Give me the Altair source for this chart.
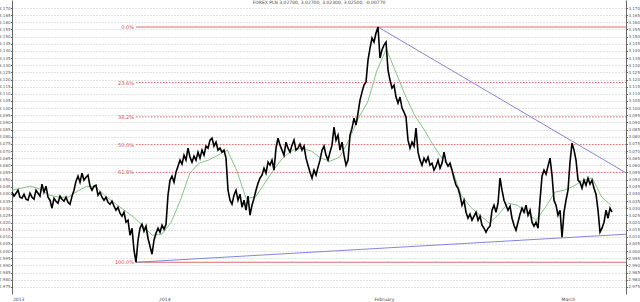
import altair as alt
import pandas as pd

# USD/PLN intraday closes (regular bar grid)
price = [
    3.0412, 3.0384, 3.0405, 3.0426, 3.0377, 3.0370, 3.0398, 3.0363, 3.0356, 3.0405,
    3.0377, 3.0363, 3.0426, 3.0405, 3.0384, 3.0468, 3.0412, 3.0454, 3.0377, 3.0356,
    3.0300, 3.0370, 3.0349, 3.0335, 3.0384, 3.0363, 3.0349, 3.0377, 3.0342, 3.0328,
    3.0384, 3.0426, 3.0489, 3.0524, 3.0482, 3.0545, 3.0496, 3.0517, 3.0531, 3.0454,
    3.0426, 3.0454, 3.0461, 3.0391, 3.0412, 3.0377, 3.0356, 3.0377, 3.0342, 3.0328,
    3.0349, 3.0314, 3.0286, 3.0307, 3.0265, 3.0244, 3.0272, 3.0202, 3.0216, 3.0111,
    3.0160, 3.0006, 2.9922, 3.0076, 3.0160, 3.0188, 3.0139, 3.0174, 3.0090, 3.0034,
    2.9978, 3.0076, 3.0125, 3.0160, 3.0132, 3.0181, 3.0153, 3.0188, 3.0391, 3.0496,
    3.0524, 3.0482, 3.0552, 3.0594, 3.0636, 3.0608, 3.0671, 3.0636, 3.0720, 3.0657,
    3.0622, 3.0664, 3.0636, 3.0692, 3.0650, 3.0706, 3.0671, 3.0734, 3.0720, 3.0776,
    3.0790, 3.0734, 3.0762, 3.0706, 3.0720, 3.0692, 3.0706, 3.0650, 3.0426, 3.0356,
    3.0328, 3.0391, 3.0426, 3.0356, 3.0398, 3.0307, 3.0356, 3.0286, 3.0384, 3.0251,
    3.0321, 3.0370, 3.0426, 3.0475, 3.0510, 3.0531, 3.0580, 3.0545, 3.0622, 3.0601,
    3.0636, 3.0566, 3.0720, 3.0790, 3.0741, 3.0706, 3.0671, 3.0762, 3.0720, 3.0692,
    3.0741, 3.0776, 3.0706, 3.0720, 3.0748, 3.0706, 3.0734, 3.0650, 3.0601, 3.0552,
    3.0510, 3.0566, 3.0531, 3.0587, 3.0636, 3.0706, 3.0734, 3.0671, 3.0636, 3.0692,
    3.0741, 3.0867, 3.0776, 3.0811, 3.0706, 3.0762, 3.0671, 3.0601, 3.0636, 3.0811,
    3.0860, 3.0930, 3.0881, 3.0965, 3.1056, 3.1112, 3.1161, 3.1182, 3.1336, 3.1420,
    3.1490, 3.1462, 3.1525, 3.1567, 3.1350, 3.1406, 3.1441, 3.1462, 3.1266, 3.1196,
    3.1140, 3.1161, 3.1077, 3.1035, 3.1077, 3.1000, 3.0972, 3.0937, 3.0776, 3.0720,
    3.0762, 3.0734, 3.0860, 3.0692, 3.0636, 3.0601, 3.0650, 3.0622, 3.0657, 3.0601,
    3.0615, 3.0566, 3.0594, 3.0636, 3.0580, 3.0615, 3.0692, 3.0622, 3.0594, 3.0615,
    3.0566, 3.0510, 3.0461, 3.0440, 3.0391, 3.0321, 3.0356, 3.0272, 3.0230, 3.0258,
    3.0216, 3.0244, 3.0272, 3.0216, 3.0244, 3.0181, 3.0160, 3.0132, 3.0160, 3.0174,
    3.0286, 3.0321, 3.0272, 3.0335, 3.0510, 3.0426, 3.0356, 3.0321, 3.0286, 3.0314,
    3.0230, 3.0181, 3.0146, 3.0202, 3.0258, 3.0300, 3.0272, 3.0321, 3.0251, 3.0286,
    3.0202, 3.0174, 3.0202, 3.0160, 3.0356, 3.0524, 3.0566, 3.0538, 3.0594, 3.0650,
    3.0531, 3.0356, 3.0321, 3.0251, 3.0286, 3.0097, 3.0272, 3.0356, 3.0426, 3.0622,
    3.0755, 3.0706, 3.0636, 3.0496, 3.0482, 3.0440, 3.0496, 3.0461, 3.0510, 3.0468,
    3.0496, 3.0440, 3.0398, 3.0286, 3.0132, 3.0160, 3.0202, 3.0286, 3.0230, 3.0300,
    3.0272,
]

# green moving average, one value per trading day
ma = [
    3.0426, 3.0440, 3.0454, 3.0433, 3.0391, 3.0377, 3.0377, 3.0419, 3.0454, 3.0447,
    3.0384, 3.0335, 3.0286, 3.0237, 3.0174, 3.0111, 3.0118, 3.0202, 3.0356, 3.0545,
    3.0615, 3.0636, 3.0671, 3.0706, 3.0566, 3.0370, 3.0377, 3.0475, 3.0573, 3.0657,
    3.0706, 3.0720, 3.0699, 3.0650, 3.0629, 3.0657, 3.0776, 3.0930, 3.1042, 3.1266,
    3.1413, 3.1252, 3.1091, 3.0951, 3.0853, 3.0741, 3.0643, 3.0573, 3.0391, 3.0307,
    3.0251, 3.0195, 3.0258, 3.0335, 3.0321, 3.0265, 3.0216, 3.0307, 3.0412, 3.0426,
    3.0454, 3.0496, 3.0510, 3.0377, 3.0321,
]

# time axis in trading days since Mon 9 Dec 2013
X_START = 1.2821
X_END = 66.88
BAR = 0.21368
DAY = 1.0

fib_pct = [0.0, 23.6, 38.2, 50.0, 61.8, 100.0]
fib_labels = ["0.0%", "23.6%", "38.2%", "50.0%", "61.8%", "100.0%"]
fib_style = ["solid", "dotted", "dotted", "dotted", "dotted", "solid"]

trend_end = [3.0547, 3.0118]  # trend lines' values at the right edge

week_ticks = [5, 10, 15, 20, 25, 30, 35, 40, 45, 50, 55, 60, 65]
week_labels = ["16", "23", "30", "6", "13", "20", "27", "3", "10", "17", "24", "3", "10"]
period_labels = ["2013", "2014", "February", "March"]
period_pos = [1.39, 17.0, 40.0, 60.0]
y_ticks = [round(2.975 + 0.005 * i, 3) for i in range(40)]

title_text = "FOREX PLN 3.02700, 3.02700, 3.02300, 3.02500, -0.00770"

FONT = "DejaVu Sans"

df_price = pd.DataFrame({"t": [X_START + i * BAR for i in range(len(price))], "p": price})
df_ma = pd.DataFrame({"t": [X_START + i * DAY for i in range(len(ma))], "p": ma})

hi = max(price)
lo = min(price)
t_hi = float(df_price["t"][price.index(hi)])
t_lo = float(df_price["t"][price.index(lo)])

df_fib = pd.DataFrame({
    "t": [t_lo] * len(fib_pct),
    "t2": [X_END] * len(fib_pct),
    "p": [hi - pct / 100.0 * (hi - lo) for pct in fib_pct],
    "label": fib_labels,
    "style": fib_style,
})
df_trend = pd.DataFrame({
    "t": [t_hi, X_END, t_lo, X_END],
    "p": [hi, trend_end[0], lo, trend_end[1]],
    "id": ["down", "down", "up", "up"],
})
df_period = pd.DataFrame({"t": period_pos, "label": period_labels})
df_title = pd.DataFrame({"s": [title_text]})

xs = alt.Scale(domain=[X_START, X_END], nice=False, zero=False)
ys = alt.Scale(domain=[2.970, 3.1756], nice=False, zero=False)

label_expr = ""
for v, s in zip(week_ticks, week_labels):
    label_expr += "datum.value == %d ? '%s' : " % (v, s)
label_expr += "''"

x_axis = alt.Axis(values=week_ticks, labelExpr=label_expr, grid=True, gridColor="#dddddd",
                  gridWidth=0.8, tickSize=3, tickColor="#444", domainColor="#555",
                  labelFontSize=4, labelColor="#222", labelPadding=-3, labelAlign="left",
                  labelBaseline="top", labelOffset=1, labelFont=FONT, title=None,
                  labelOverlap=False, labelBound=False, labelFlush=False)
y_left = alt.Axis(values=y_ticks, format=".3f", orient="left", labelFontSize=4,
                  labelColor="#555", labelFont=FONT, tickSize=1.5, tickColor="#666",
                  domainColor="#666", grid=True, gridDash=[1, 2], gridColor="#b8b8b8",
                  gridWidth=0.8, labelPadding=0.5, title=None, labelOverlap=False)
y_right = alt.Axis(values=y_ticks, format=".3f", orient="right", labelFontSize=4,
                   labelColor="#555", labelFont=FONT, tickSize=1.5, tickColor="#666",
                   domainColor="#666", grid=False, labelPadding=0.5, title=None,
                   labelOverlap=False)

fib_lines = alt.Chart(df_fib).mark_rule(color="#e06a6a", strokeWidth=1).encode(
    x=alt.X("t:Q", scale=xs, axis=x_axis),
    x2="t2:Q",
    y=alt.Y("p:Q", scale=ys, axis=y_left),
    strokeDash=alt.StrokeDash("style:N", legend=None,
                              scale=alt.Scale(domain=["solid", "dotted"], range=[[1, 0], [1.5, 1.5]])),
)
fib_text = alt.Chart(df_fib).mark_text(align="right", baseline="middle", dx=-2, fontSize=5,
                                       color="#d94a4a", font=FONT).encode(
    x=alt.X("t:Q", scale=xs, axis=None),
    y=alt.Y("p:Q", scale=ys, axis=None),
    text="label:N",
)
trend = alt.Chart(df_trend).mark_line(color="#8484dc", strokeWidth=1).encode(
    x=alt.X("t:Q", scale=xs, axis=None),
    y=alt.Y("p:Q", scale=ys, axis=None),
    detail="id:N",
)
ma_line = alt.Chart(df_ma).mark_line(color="#74c074", strokeWidth=0.9).encode(
    x=alt.X("t:Q", scale=xs, axis=None),
    y=alt.Y("p:Q", scale=ys, axis=y_right),
)
price_line = alt.Chart(df_price).mark_line(color="black", strokeWidth=1.6).encode(
    x=alt.X("t:Q", scale=xs, axis=None),
    y=alt.Y("p:Q", scale=ys, axis=None),
)
periods = alt.Chart(df_period).mark_text(align="left", baseline="middle", fontSize=4.5,
                                         color="#444", font=FONT).encode(
    x=alt.X("t:Q", scale=xs, axis=None),
    y=alt.value(300),
    text="label:N",
)
title = alt.Chart(df_title).mark_text(align="center", baseline="middle", fontSize=4.5,
                                      color="#444", font=FONT).encode(
    x=alt.value(307), y=alt.value(3), text="s:N",
)

chart = alt.layer(fib_lines, fib_text, trend, ma_line, price_line, periods, title).resolve_scale(
    y="shared", x="shared"
).resolve_axis(y="independent").properties(
    width=614, height=294,
    autosize=alt.AutoSizeParams(type="none"),
    padding={"left": 12, "top": 0, "right": 14, "bottom": 8},
    background="white",
).configure_view(stroke=None)

chart.save("out.html", embed_options={"renderer": "svg", "actions": False})
